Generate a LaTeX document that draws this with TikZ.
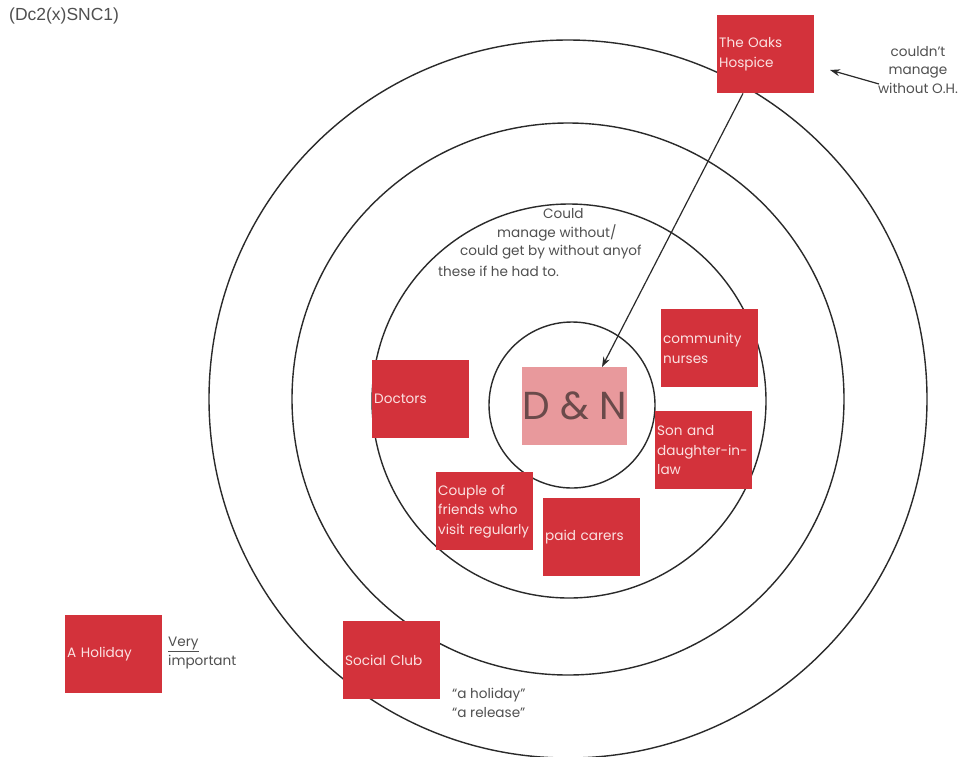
\documentclass[tikz,border=0pt]{standalone}
\usepackage{fontspec}
\setmainfont{Poppins}
\newfontfamily\codefont{Liberation Sans}
\usetikzlibrary{arrows.meta}

\definecolor{boxred}{HTML}{D3323B}
\definecolor{corepink}{HTML}{E8999C}
\definecolor{coretext}{HTML}{6A4A4A}
\definecolor{boxtext}{HTML}{FBE1E1}
\definecolor{inkgray}{HTML}{505050}
\definecolor{ringgray}{HTML}{2A2A2A}

\begin{document}
\begin{tikzpicture}[x=1pt,y=-1pt,
  ring/.style={draw=ringgray, line width=1.4pt},
  card/.style={fill=boxred, draw=none, anchor=north west,
    minimum width=97pt, minimum height=78pt, text width=93pt,
    inner xsep=2pt, inner ysep=4pt,
    align=left, text=boxtext, font=\fontsize{13.6}{19.5}\selectfont},
  core/.style={fill=corepink, draw=none, anchor=north west,
    minimum width=98pt, minimum height=78pt, inner sep=0pt,
    text=coretext, font=\fontsize{39}{39}\selectfont},
  note/.style={text=inkgray, inner sep=0pt, font=\fontsize{13.6}{18.5}\selectfont},
  pointer/.style={draw=ringgray, line width=1.2pt, -{Stealth[length=10pt,width=7pt]}}]

\useasboundingbox (0,0) rectangle (977,756);
\fill[white] (0,0) rectangle (977,756);

% concentric rings of support
\draw[ring] (568,399) circle[radius=359pt];
\draw[ring] (568,399) circle[radius=276pt];
\draw[ring] (569,401) circle[radius=197pt];
\draw[ring] (572,405) circle[radius=83pt];

% reference code
\node[anchor=west, inner sep=0pt, text=inkgray, font=\codefont\fontsize{17.5}{17.5}\selectfont] (code) at (9,16) {(Dc2(x)SNC1)};

% the couple at the centre
\node[core] (dn) at (522,367) {D \& N};

% support boxes
\node[card] (oaks) at (717,15) {The Oaks\\Hospice};
\node[card] (doctors) at (372,360) {Doctors};
\node[card] (nurses) at (661,309) {community\\nurses};
\node[card] (son) at (655,411) {Son and\\daughter-in-\\law};
\node[card] (friends) at (436,472) {Couple of\\friends who\\visit regularly};
\node[card] (carers) at (543,498) {paid carers};
\node[card] (social) at (343,621) {Social Club};
\node[card] (holiday) at (65,615) {A Holiday};

% annotations
\node[note, align=center] (ohnote) at (918,70) {couldn't\\manage\\without O.H.};
\node[note, anchor=west] (could1) at (543,214) {Could};
\node[note, anchor=west] (could2) at (497,233) {manage without/};
\node[note, anchor=west] (could3) at (460,252) {could get by without anyof};
\node[note, anchor=west] (could4) at (438,271) {these if he had to.};
\node[note, anchor=north west, align=left] (veryimp) at (168,637) {\underline{Very}\\important};
\node[note, anchor=north west, align=left] (quotes) at (452,688) {\char"201C a holiday\char"201D\\\char"201C a release\char"201D};

% connectors
\coordinate (ohtail) at (879,84);
\coordinate (ohtip) at (830,70);
\draw[pointer] (ohtail) -- (ohtip);
\draw[pointer] ([xshift=26pt]oaks.south west) -- ([xshift=80pt]dn.north west);
\end{tikzpicture}
\end{document}
